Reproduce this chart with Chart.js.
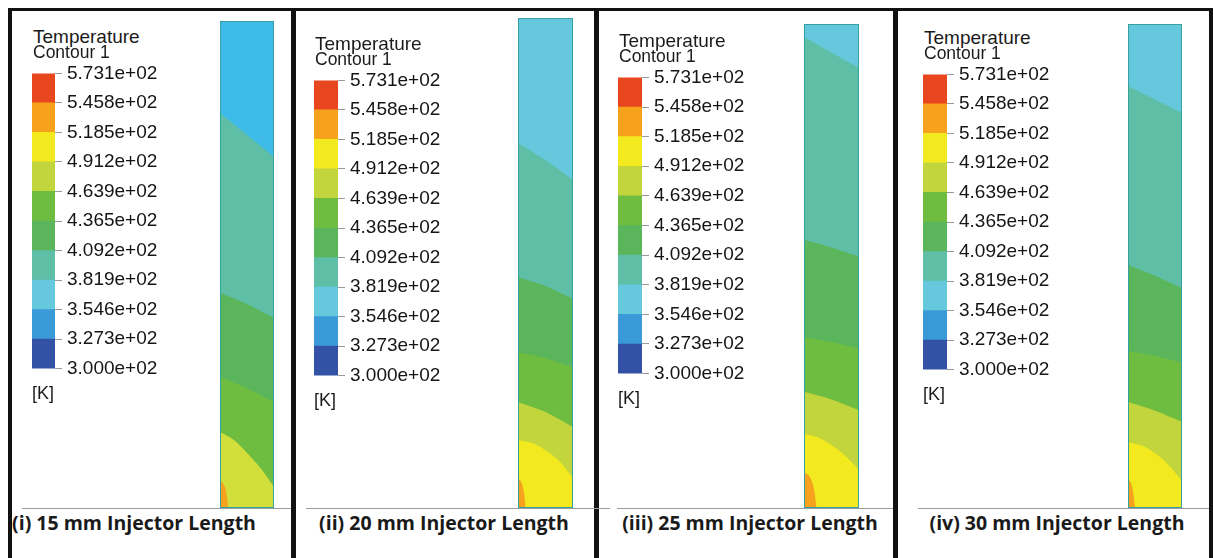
<!DOCTYPE html>
<html>
<head>
<meta charset="utf-8">
<script src="https://cdn.jsdelivr.net/npm/chart.js@4.4.1/dist/chart.umd.min.js"></script>
<style>
  html, body { margin: 0; padding: 0; background: #fff; }
  #page { position: relative; width: 1213px; height: 558px; overflow: hidden; background: #fff; }
  .rule { position: absolute; background: #111; }
  .base { position: absolute; height: 1px; background: #9c9c9c; }
  .txt  { position: absolute; font-family: 'Liberation Sans', Arial, sans-serif; color: #1b1b1b; white-space: nowrap; }
  .cap  { position: absolute; font-family: 'Open Sans', sans-serif; font-weight: 700; font-size: 19.5px;
          line-height: 24px; color: #1a1a1a; white-space: nowrap; transform: translateX(-50%); }
  canvas { position: absolute; display: block; }
  canvas.strip { outline: 1px solid #35a2a2; outline-offset: -1px; }
</style>
</head>
<body>
<div id="page"></div>
<script>
// ─── data ────────────────────────────────────────────
const LEVELS = [300.0, 327.3, 354.6, 381.9, 409.2, 436.5, 463.9, 491.2, 518.5, 545.8, 573.1];
const CAPTIONS = [
  '(i) 15 mm Injector Length',
  '(ii) 20 mm Injector Length',
  '(iii) 25 mm Injector Length',
  '(iv) 30 mm Injector Length',
];

// iso-lines in the strip: [x, y] with x = 0..1 across the strip (injector side = 0)
// and y = height above the domain bottom, % of strip height
const ISO_LEVELS = [381.9, 409.2, 436.5, 463.9, 491.2, 518.5];
const ISO_15MM = [
  [[0, 81.1], [1, 72.1]],
  [[0, 44.2], [0.5, 41.9], [1, 39.0]],
  [[0, 26.9], [0.5, 24.6], [1, 21.8]],
  [[0, 15.6], [0.25, 14.0], [0.5, 11.3], [0.75, 8.2], [1, 4.3]],
  null,
  [[0, 5.7], [0.07, 4.8], [0.12, 3.0], [0.15, 0]],
];
const ISO_20MM = [
  [[0, 74.5], [0.5, 71.0], [1, 66.9]],
  [[0, 47.1], [0.5, 45.3], [1, 42.7]],
  [[0, 31.8], [0.5, 30.6], [1, 28.6]],
  [[0, 21.6], [0.5, 19.6], [1, 16.5]],
  [[0, 13.9], [0.25, 13.3], [0.5, 11.8], [0.75, 9.6], [1, 6.1]],
  [[0, 6.1], [0.07, 5.0], [0.11, 3.0], [0.14, 0]],
];
const ISO_25MM = [
  [[0, 97.3], [1, 90.9]],
  [[0, 55.4], [0.5, 53.8], [1, 51.9]],
  [[0, 35.3], [0.5, 34.3], [1, 32.9]],
  [[0, 24.0], [0.5, 22.4], [1, 20.2]],
  [[0, 15.3], [0.25, 14.6], [0.5, 13.0], [0.75, 10.8], [1, 7.9]],
  [[0, 7.4], [0.1, 6.5], [0.18, 4.0], [0.23, 0]],
];
const ISO_30MM = [
  [[0, 87.2], [1, 81.6]],
  [[0, 50.2], [0.5, 48.0], [1, 45.4]],
  [[0, 32.4], [0.5, 31.4], [1, 30.0]],
  [[0, 21.9], [0.5, 20.1], [1, 17.8]],
  [[0, 13.6], [0.25, 12.9], [0.5, 11.3], [0.75, 8.9], [1, 5.6]],
  [[0, 6.0], [0.06, 5.0], [0.1, 3.0], [0.13, 0]],
];
const PANEL_ISOS = [ISO_15MM, ISO_20MM, ISO_25MM, ISO_30MM];

// ─── styles / layout ─────────────────────────────────
const BAND_COLORS = ['#3352a5', '#3a9ad8', '#66c8dc', '#5ebfa6', '#5ab55b', '#6fbd40',
                     '#c3d53d', '#f2e91f', '#f6a21d', '#e8461f'];
const STRIP_TINTS = [{ 2: '#3ebbe9', 6: '#d2de3b' }, {}, {}, {}];
const LAYOUT = [
  { bar: [32, 72, 23, 298],  strip: [220, 21, 54, 487],  cap: 134,  base: [22, 291] },
  { bar: [314, 79, 24, 298], strip: [518, 18, 55, 490],  cap: 444,  base: [306, 610] },
  { bar: [618, 76, 24, 299], strip: [804, 24, 55, 484],  cap: 750,  base: [617, 893] },
  { bar: [923, 73, 24, 298], strip: [1128, 24, 54, 484], cap: 1057, base: [918, 1209] },
];
const RULES = [[8, 8, 1205, 3], [8, 8, 4, 550], [291, 8, 5, 550], [594, 8, 5, 550], [893, 8, 5, 550], [1209, 8, 4, 550]];
const AXIS_W = 120;
const PAD = 15;

const page = document.getElementById('page');

function el(tag, cls, css, text) {
  const e = document.createElement(tag);
  if (cls) e.className = cls;
  Object.assign(e.style, css);
  if (text) e.textContent = text;
  page.appendChild(e);
  return e;
}

function fmtK(v) {
  return v.toExponential(3).replace(/e([+-])(\d)$/, 'e$10$2');
}

// ─── colour bar (legend) ─────────────────────────────
function drawBar(lay) {
  const [x, y, w, h] = lay.bar;
  const cv = el('canvas', '', { left: x + 'px', top: (y - PAD) + 'px' });
  cv.width = w + AXIS_W;
  cv.height = h + 2 * PAD;
  new Chart(cv.getContext('2d'), {
    type: 'bar',
    data: {
      labels: [''],
      datasets: BAND_COLORS.map((c, i) => ({
        data: [[LEVELS[i], LEVELS[i + 1]]],
        backgroundColor: c, borderWidth: 0,
        grouped: false, barPercentage: 1, categoryPercentage: 1,
      })),
    },
    options: {
      responsive: false, animation: false, events: [],
      layout: { padding: { top: PAD, bottom: PAD, left: 0, right: 0 } },
      plugins: { legend: { display: false }, tooltip: { enabled: false } },
      scales: {
        x: { display: false },
        y: {
          position: 'right', min: LEVELS[0], max: LEVELS[LEVELS.length - 1],
          afterBuildTicks: s => { s.ticks = LEVELS.map(v => ({ value: v })); },
          afterFit: s => { s.width = AXIS_W; },
          grid: { drawOnChartArea: false, tickLength: 7, color: '#9a9a9a', lineWidth: 1 },
          border: { display: false },
          ticks: {
            padding: 5, color: '#151515',
            font: { family: 'Liberation Sans', size: 19 },
            callback: (v, i) => fmtK(LEVELS[i]),
          },
        },
      },
    },
  });

  el('div', 'txt', { left: (x + 1) + 'px', top: (y - 45.5) + 'px', fontSize: '19px', lineHeight: '20px' }, 'Temperature');
  el('div', 'txt', { left: (x + 1) + 'px', top: (y - 29) + 'px', fontSize: '17.5px', lineHeight: '18px' }, 'Contour 1');
  el('div', 'txt', { left: x + 'px', top: (y + h + 13) + 'px', fontSize: '18px', lineHeight: '20px' }, '[K]');
}

// ─── temperature strip ───────────────────────────────
function drawStrip(lay, isos, tint) {
  const [x, y, w, h] = lay.strip;
  const cv = el('canvas', 'strip', { left: x + 'px', top: y + 'px' });
  cv.width = w;
  cv.height = h;
  const color = k => tint[k] || BAND_COLORS[k];

  // hottest line first so it is painted last (on top)
  const datasets = [];
  for (let i = ISO_LEVELS.length - 1; i >= 0; i--) {
    if (!isos[i]) continue;
    const k = LEVELS.indexOf(ISO_LEVELS[i]);
    datasets.push({
      data: isos[i].map(([px, py]) => ({ x: px, y: py })),
      fill: 'start', backgroundColor: color(k),
    });
  }
  const top = LEVELS.indexOf(ISO_LEVELS[0]) - 1;
  datasets.push({ data: [{ x: 0, y: 100 }, { x: 1, y: 100 }], fill: 'start', backgroundColor: color(top) });

  new Chart(cv.getContext('2d'), {
    type: 'line',
    data: { datasets },
    options: {
      responsive: false, animation: false, events: [],
      layout: { padding: 0 },
      plugins: { legend: { display: false }, tooltip: { enabled: false } },
      elements: {
        point: { radius: 0 },
        line: { borderWidth: 0, borderColor: 'rgba(0,0,0,0)', cubicInterpolationMode: 'monotone' },
      },
      scales: {
        x: { type: 'linear', min: 0, max: 1, display: false },
        y: { type: 'linear', min: 0, max: 100, display: false },
      },
    },
  });
}

RULES.forEach(([l, t, w, h]) => el('div', 'rule', { left: l + 'px', top: t + 'px', width: w + 'px', height: h + 'px' }));

LAYOUT.forEach((lay, p) => {
  el('div', 'base', { left: lay.base[0] + 'px', top: '508px', width: (lay.base[1] - lay.base[0]) + 'px' });
  drawBar(lay);
  drawStrip(lay, PANEL_ISOS[p], STRIP_TINTS[p]);
  el('div', 'cap', { left: lay.cap + 'px', top: '511px' }, CAPTIONS[p]);
});
</script>
</body>
</html>
